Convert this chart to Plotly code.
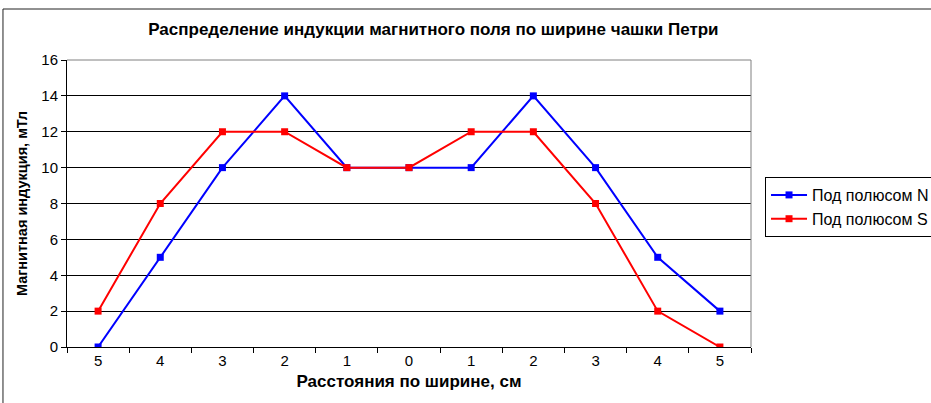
import plotly.graph_objects as go

categories = ["5", "4", "3", "2", "1", "0", "1", "2", "3", "4", "5"]
n_values = [0, 5, 10, 14, 10, 10, 10, 14, 10, 5, 2]
s_values = [2, 8, 12, 12, 10, 10, 12, 12, 8, 2, 0]
y_ticks = [0, 2, 4, 6, 8, 10, 12, 14, 16]

xs = list(range(len(categories)))
bounds = [i - 0.5 for i in range(len(categories) + 1)]

FONT = "Liberation Sans, Arial, sans-serif"

fig = go.Figure()
fig.add_trace(go.Scatter(x=xs, y=n_values, mode="lines+markers", name="Под полюсом N",
                         line=dict(color="#0000FF", width=2),
                         marker=dict(symbol="square", size=7, color="#0000FF")))
fig.add_trace(go.Scatter(x=xs, y=s_values, mode="lines+markers", name="Под полюсом S",
                         line=dict(color="#FF0000", width=2),
                         marker=dict(symbol="square", size=7, color="#FF0000")))
# invisible trace to keep boundary-tick axis alive
fig.add_trace(go.Scatter(x=[bounds[0]], y=[0], xaxis="x2", mode="markers",
                         marker=dict(opacity=0), showlegend=False, hoverinfo="skip"))

fig.update_layout(
    width=931, height=403,
    margin=dict(l=67, r=180, t=60, b=56, autoexpand=False),
    paper_bgcolor="white", plot_bgcolor="white",
    font=dict(family=FONT, size=15, color="black"),
    title=dict(text="<b>Распределение индукции магнитного поля по ширине чашки Петри</b>",
               x=0.4655, xanchor="center", y=0.928, yanchor="middle",
               font=dict(family=FONT, size=17, color="black")),
    xaxis=dict(range=[-0.5, 10.5], tickvals=xs, ticktext=categories, ticks="",
               showgrid=False, zeroline=False, showline=True, linecolor="black", linewidth=1,
               tickfont=dict(size=15),
               title=dict(text="<b>Расстояния по ширине, см</b>", font=dict(size=17), standoff=7)),
    xaxis2=dict(range=[-0.5, 10.5], overlaying="x", tickvals=bounds, ticks="outside",
                ticklen=5, tickcolor="black", showticklabels=False, showgrid=False,
                zeroline=False, showline=False),
    yaxis=dict(range=[0, 16], tickvals=y_ticks, ticks="outside", ticklen=5, tickcolor="black",
               showgrid=True, gridcolor="#000000", gridwidth=1, zeroline=False,
               showline=True, linecolor="black", linewidth=1, tickfont=dict(size=15),
               title=dict(text="<b>Магнитная индукция, мТл</b>", font=dict(size=14.5), standoff=10)),
    legend=dict(x=1.0205, y=0.5923, xanchor="left", yanchor="top",
                bordercolor="black", borderwidth=1, bgcolor="white",
                font=dict(size=16), tracegroupgap=0, itemwidth=36),
    showlegend=True,
    shapes=[
        dict(type="line", xref="paper", yref="paper", x0=0, x1=1, y0=1, y1=1,
             line=dict(color="#808080", width=1)),
        dict(type="line", xref="paper", yref="paper", x0=1, x1=1, y0=0, y1=1,
             line=dict(color="#808080", width=1)),
        dict(type="rect", xref="paper", yref="paper", x0=-0.0936, x1=1.27, y0=-0.25, y1=1.1777,
             line=dict(color="#222222", width=1), layer="below"),
    ],
)

fig.write_html("out.html", config={"displayModeBar": False},
               post_script="document.body.style.margin='0';")
